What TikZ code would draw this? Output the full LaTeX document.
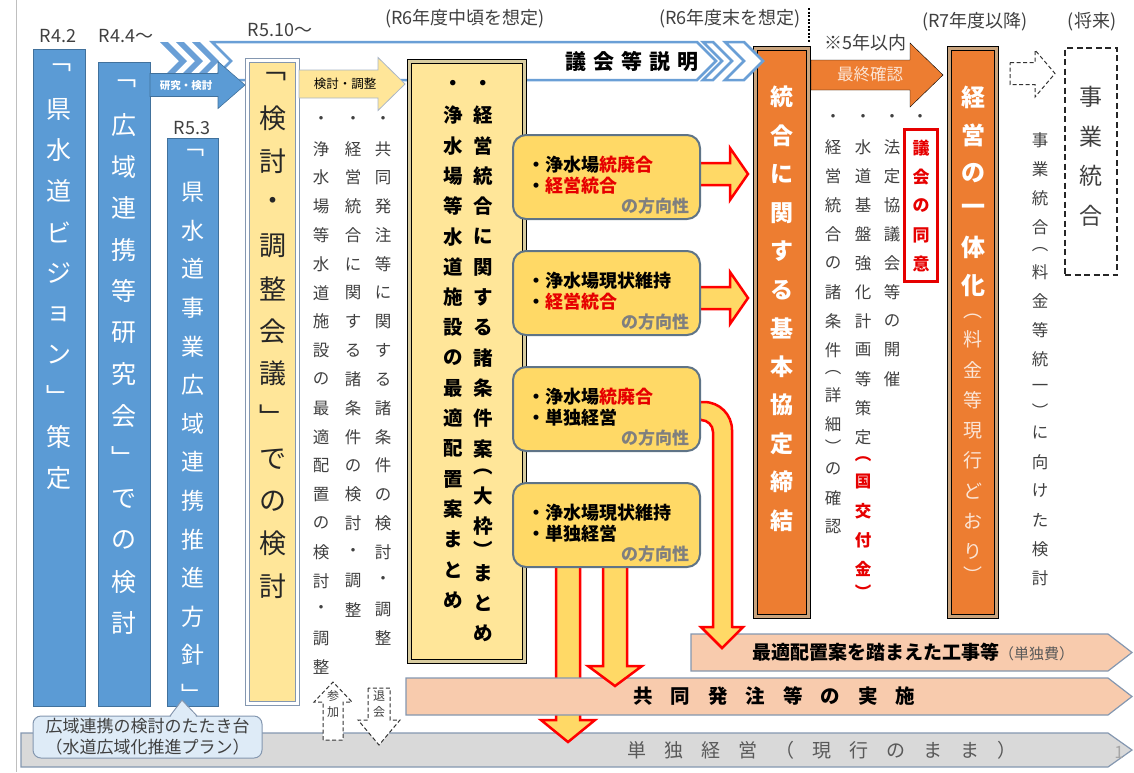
\documentclass[tikz,border=0pt]{standalone}
\usepackage{fontspec}
\setmainfont{Noto Sans CJK JP}

\definecolor{bluefill}{HTML}{5B9BD5}
\definecolor{blueline}{HTML}{41719C}
\definecolor{bandblue}{HTML}{6A9FD6}
\definecolor{paleyellow}{HTML}{FFE699}
\definecolor{gold}{HTML}{FFD966}
\definecolor{orangefill}{HTML}{ED7D31}
\definecolor{peach}{HTML}{F8CBAD}
\definecolor{lightpeach}{HTML}{FBE5D6}
\definecolor{barline}{HTML}{8497B0}
\definecolor{greybar}{HTML}{D9D9D9}
\definecolor{slate}{HTML}{5F7487}
\definecolor{arrowred}{HTML}{FF0000}
\definecolor{textred}{HTML}{E60000}
\definecolor{framegold}{HTML}{C9A47E}
\definecolor{planbeige}{HTML}{D8CCA0}
\definecolor{inkgrey}{HTML}{404040}
\definecolor{greytext}{HTML}{595959}
\definecolor{notegrey}{HTML}{7F7F7F}
\definecolor{callout}{HTML}{DEEBF7}

% vertical (tategaki) text: one cell per character, brackets get a short cell
\ExplSyntaxOn
\dim_new:N \l_tate_dim
\cs_new_protected:Npn \tate_cell:nn #1#2
  { \vbox_to_ht:nn {#1} { \vss \hbox_to_wd:nn {1.6em} { \hss #2 \hss } \vss } }
\NewDocumentCommand \tate { O{30pt} m }
  {
    \dim_set:Nn \l_tate_dim {#1}
    \vbox
      {
        \offinterlineskip
        \tl_map_inline:nn {#2}
          {
            \str_case:nnF {##1}
              {
                {︵} { \tate_cell:nn { 0.55\l_tate_dim } {##1} }
                {︶} { \tate_cell:nn { 0.55\l_tate_dim } {##1} }
              }
              { \tate_cell:nn { \l_tate_dim } {##1} }
          }
      }
  }
\NewDocumentCommand \spaced { m m }
  { \tl_map_inline:nn {#2} { ##1 \hskip #1 \scan_stop: } \unskip }
\ExplSyntaxOff

% block arrows: style, from, to, centre line, shaft half width, head half width, head length
\newcommand{\rightblock}[7][]{\draw[#1] (#2,{#4-#5}) -- ({#3-(#7)},{#4-#5}) -- ({#3-(#7)},{#4-#6}) -- (#3,#4) -- ({#3-(#7)},{#4+#6}) -- ({#3-(#7)},{#4+#5}) -- (#2,{#4+#5}) -- cycle;}
\newcommand{\downblock}[7][]{\draw[#1] ({#4-#5},#2) -- ({#4-#5},{#3-(#7)}) -- ({#4-#6},{#3-(#7)}) -- (#4,#3) -- ({#4+#6},{#3-(#7)}) -- ({#4+#5},{#3-(#7)}) -- ({#4+#5},#2) -- cycle;}

\begin{document}
\begin{tikzpicture}[x=1pt,y=-1pt,
  every node/.style={inner sep=0pt,outer sep=0pt},
  lbl/.style={font=\fontsize{18}{20}\selectfont,text=inkgrey},
  bluecol/.style={draw=blueline,fill=bluefill,line width=0.8pt},
  bluetext/.style={anchor=north,text=white,font=\fontsize{25}{28}\selectfont},
  meetbox/.style={draw=barline,line width=1pt,double=white,double distance=2.5pt,fill=paleyellow},
  framebox/.style={draw=black,line width=1.2pt,double distance=3pt},
  coltext/.style={anchor=north,text=inkgrey,font=\fontsize{16.5}{20}\selectfont},
  plantext/.style={anchor=north,font=\fontsize{19.5}{22}\selectfont\bfseries},
  orangetext/.style={anchor=north,text=white,font=\fontsize{23}{26}\selectfont\bfseries},
  bluearrow/.style={fill=bluefill,draw=blueline,line width=0.6pt},
  yellowarrow/.style={fill=paleyellow,draw=barline!70,line width=0.8pt},
  orangearrow/.style={fill=orangefill},
  redarrow/.style={fill=gold,draw=arrowred,line width=2.5pt},
  dasharrow/.style={fill=white,draw=black!80,dash pattern=on 4pt off 2.5pt,line width=1pt},
  band/.style={fill=white,draw=bandblue,line width=2.5pt},
  dirbox/.style={draw=slate,fill=gold,line width=2pt,rounded corners=13pt,minimum width=187,minimum height=84},
  dirtext/.style={anchor=west,font=\fontsize{18}{20}\selectfont\bfseries},
  dirnote/.style={anchor=east,text=notegrey,font=\fontsize{17}{20}\selectfont\bfseries},
  bar/.style={draw=barline,line width=1.2pt}]

\useasboundingbox (0,0) rectangle (1134,772);
\draw[black!25] (16,0) -- (16,772);

% headings
\node[lbl] (r42) at (58,36) {R4.2};
\node[lbl] (r44) at (126,36) {R4.4～};
\node[lbl] (r53) at (192,128) {R5.3};
\node[lbl] (r510) at (280,30) {R5.10～};
\node[lbl] (midR6) at (465,19) {(R6年度中頃を想定)};
\node[lbl] (endR6) at (730,19) {(R6年度末を想定)};
\node[lbl] (afterR7) at (975,22) {(R7年度以降)};
\node[lbl] (future) at (1092,22) {(将来)};
\node[lbl] (within) at (865,43) {※5年以内};
\draw[black,line width=2pt,dash pattern=on 2pt off 1.5pt] (809,8) -- (809,42);

% council band
\fill[bandblue] (160,42) -- (168,42) -- (187,61) -- (168,80) -- (160,80) -- (179,61) -- cycle;
\fill[bandblue] (176,42) -- (184,42) -- (203,61) -- (184,80) -- (176,80) -- (195,61) -- cycle;
\fill[bandblue] (192,42) -- (200,42) -- (219,61) -- (200,80) -- (192,80) -- (211,61) -- cycle;
\draw[band] (212,42) -- (697,42) -- (716,61) -- (697,80) -- (212,80) -- (231,61) -- cycle;

% blue columns
\node[bluecol,minimum width=52,minimum height=657] (vision) at (59,377.5) {};
\node[bluetext] (visionlbl) at (59,47.5) {\tate[41pt]{﹁県水道ビジョン﹂策定}};
\node[bluecol,minimum width=52,minimum height=644] (study) at (124,384) {};
\node[bluetext] (studylbl) at (124,63) {\tate[41.5pt]{﹁広域連携等研究会﹂での検討}};
\node[bluecol,minimum width=51,minimum height=568] (policy) at (192.5,422) {};
\node[bluetext,font=\fontsize{23}{26}\selectfont] (policylbl) at (192.5,134) {\tate[38.6pt]{﹁県水道事業広域連携推進方針﹂}};

\rightblock[bluearrow]{150}{245}{85}{11.5}{23.5}{27}
\node[text=white,font=\fontsize{10.5}{12}\selectfont\bfseries] (research) at (186,86) {研究・検討};

% meeting
\node[meetbox,minimum width=50,minimum height=643] (meeting) at (272.5,382) {};
\node[coltext,text=black!85,font=\fontsize{27}{30}\selectfont] (meetinglbl) at (272.5,55) {\tate[42.5pt]{﹁検討・調整会議﹂での検討}};

\rightblock[yellowarrow]{299}{405}{84}{14}{26.5}{27}
\node[font=\fontsize{12.5}{14}\selectfont] (adjust) at (345,84) {検討・調整};

\node[coltext] (topicA) at (321,105.6) {\tate[28.8pt]{・浄水場等水道施設の最適配置の検討・調整}};
\node[coltext] (topicB) at (353,105.6) {\tate[28.8pt]{・経営統合に関する諸条件の検討・調整}};
\node[coltext] (topicC) at (383,105.6) {\tate[28.8pt]{・共同発注等に関する諸条件の検討・調整}};

% plan
\node[framebox,double=planbeige,fill=paleyellow,minimum width=115,minimum height=600] (plan) at (467,361.5) {};
\node[plantext] (planA) at (453,70) {\tate[30.3pt]{・浄水場等水道施設の最適配置案まとめ}};
\node[plantext] (planB) at (483,70) {\tate[30.3pt]{・経営統合に関する諸条件案︵大枠︶まとめ}};

\node[font=\fontsize{21}{24}\selectfont\bfseries] (council) at (632,61) {\spaced{7pt}{議会等説明}};

% accord
\rightblock[orangearrow]{811}{943}{75}{15}{32}{33}
\node[text=lightpeach,font=\fontsize{16.5}{18}\selectfont] (finalcheck) at (870,74) {最終確認};
\node[framebox,double=framegold,fill=orangefill,minimum width=53,minimum height=568] (accord) at (782,332.5) {};
\node[orangetext] (accordlbl) at (782,78) {\tate[38.5pt]{統合に関する基本協定締結}};
\draw[band] (703,42) -- (713,42) -- (732,61) -- (713,80) -- (703,80) -- (722,61) -- cycle;
\draw[band] (725,42) -- (744,42) -- (763,61) -- (744,80) -- (725,80) -- (744,61) -- cycle;

\node[coltext] (termsA) at (833,103.5) {\tate[29pt]{・経営統合の諸条件︵詳細︶の確認}};
\node[coltext] (termsB) at (863,103.5) {\tate[29pt]{・水道基盤強化計画等策定}};
\node[coltext,text=textred,font=\fontsize{16.5}{20}\selectfont\bfseries] (grant) at (863,451.5) {\tate[29pt]{︵国交付金︶}};
\node[coltext] (termsC) at (892,103.5) {\tate[29pt]{・法定協議会等の開催}};
\node[coltext] (termsD) at (920,103.5) {\tate[29pt]{・}};
\node[draw=textred,line width=3pt,minimum width=33,minimum height=152] (agree) at (921,205.5) {};
\node[coltext,text=textred,font=\fontsize{17}{20}\selectfont\bfseries] (agreelbl) at (921,133.5) {\tate[29pt]{議会の同意}};

% unify
\node[framebox,double=framegold,fill=orangefill,minimum width=47,minimum height=568] (unify) at (973,332.5) {};
\node[orangetext,font=\fontsize{24}{28}\selectfont\bfseries] (unifylbl) at (973,79) {\tate[37.5pt]{経営の一体化}};
\node[anchor=north,text=lightpeach,font=\fontsize{19}{22}\selectfont] (unifynote) at (973,308) {\tate[30.2pt]{︵料金等現行どおり︶}};

% future
\rightblock[dasharrow]{1010}{1055}{73.5}{11}{23.5}{20}
\node[draw=black!85,dash pattern=on 6pt off 3.5pt,line width=1.3pt,minimum width=52,minimum height=227] (merger) at (1091,161.5) {};
\node[coltext,font=\fontsize{23}{26}\selectfont] (mergerlbl) at (1091,77) {\tate[39.6pt]{事業統合}};
\node[coltext] (mergerstudy) at (1040,125.5) {\tate[29pt]{事業統合︵料金等統一︶に向けた検討}};

% bottom bars
\draw[bar,fill=greybar] (21,733) -- (1108,733) -- (1132,750) -- (1108,767) -- (21,767) -- cycle;
\node[text=greytext,font=\fontsize{19}{22}\selectfont] (solo) at (822,750) {\spaced{18pt}{単独経営（現行のまま）}};
\downblock[redarrow]{560}{742}{568}{12}{27}{22}
\draw[bar,fill=peach] (406,678) -- (1108,678) -- (1132,696.5) -- (1108,715) -- (406,715) -- cycle;
\node[font=\fontsize{19.5}{22}\selectfont\bfseries] (joint) at (774,696.5) {\spaced{18pt}{共同発注等の実施}};
\downblock[redarrow]{560}{686}{615}{12}{27}{20}
\draw[bar,fill=peach] (691,634) -- (1108,634) -- (1132,652.5) -- (1108,671) -- (691,671) -- cycle;
\node[font=\fontsize{19}{22}\selectfont\bfseries] (works) at (913,652.5) {最適配置案を踏まえた工事等{\mdseries\fontsize{15}{18}\selectfont\color{greytext}（単独費）}};

% direction arrows
\draw[redarrow] (690,402) [rounded corners=28pt] -| (732,600) [sharp corners] -- (732,627) -- (743,627) -- (722,648) -- (701,627) -- (713,627) -- (713,600) [rounded corners=12pt] |- (690,420) [sharp corners] -- cycle;
\rightblock[redarrow]{690}{748}{174}{11}{26}{18}
\rightblock[redarrow]{690}{748}{298}{11}{26}{18}

% directions
\node[dirbox] (dirA) at (606.5,177) {};
\node[dirtext] (dirAone) at (527,165) {・浄水場\textcolor{textred}{統廃合}};
\node[dirtext] (dirAtwo) at (527,186) {・\textcolor{textred}{経営統合}};
\node[dirnote] (dirAnote) at (689,206) {の方向性};
\node[dirbox] (dirB) at (606.5,293) {};
\node[dirtext] (dirBone) at (527,281) {・浄水場現状維持};
\node[dirtext] (dirBtwo) at (527,302) {・\textcolor{textred}{経営統合}};
\node[dirnote] (dirBnote) at (689,322) {の方向性};
\node[dirbox] (dirC) at (606.5,409) {};
\node[dirtext] (dirCone) at (527,397) {・浄水場\textcolor{textred}{統廃合}};
\node[dirtext] (dirCtwo) at (527,418) {・単独経営};
\node[dirnote] (dirCnote) at (689,438) {の方向性};
\node[dirbox] (dirD) at (606.5,525) {};
\node[dirtext] (dirDone) at (527,513) {・浄水場現状維持};
\node[dirtext] (dirDtwo) at (527,534) {・単独経営};
\node[dirnote] (dirDnote) at (689,554) {の方向性};

% callout
\node[draw=barline,fill=callout,line width=1pt,rounded corners=8pt,minimum width=229,minimum height=42] (bubble) at (147.5,737) {};
\fill[callout] (170,718) -- (182,700) -- (197,718) -- cycle;
\draw[barline,line width=1pt] (170,716) -- (182,700) -- (197,716);
\node[text=inkgrey,font=\fontsize{17}{21}\selectfont,align=center] (bubblelbl) at (147.5,737) {広域連携の検討のたたき台\\（水道広域化推進プラン）};

% join / leave
\downblock[dasharrow]{740}{682}{333}{10}{19}{-20}
\node[anchor=north,text=inkgrey,font=\fontsize{12}{14}\selectfont] (join) at (333,688) {\tate[16pt]{参加}};
\downblock[dasharrow]{688}{745}{379}{11}{21}{25}
\node[anchor=north,text=inkgrey,font=\fontsize{12}{14}\selectfont] (leave) at (379,688) {\tate[16pt]{退会}};

\node[text=black!35,font=\fontsize{17}{20}\selectfont] (page) at (1119,752) {1};
\end{tikzpicture}
\end{document}
